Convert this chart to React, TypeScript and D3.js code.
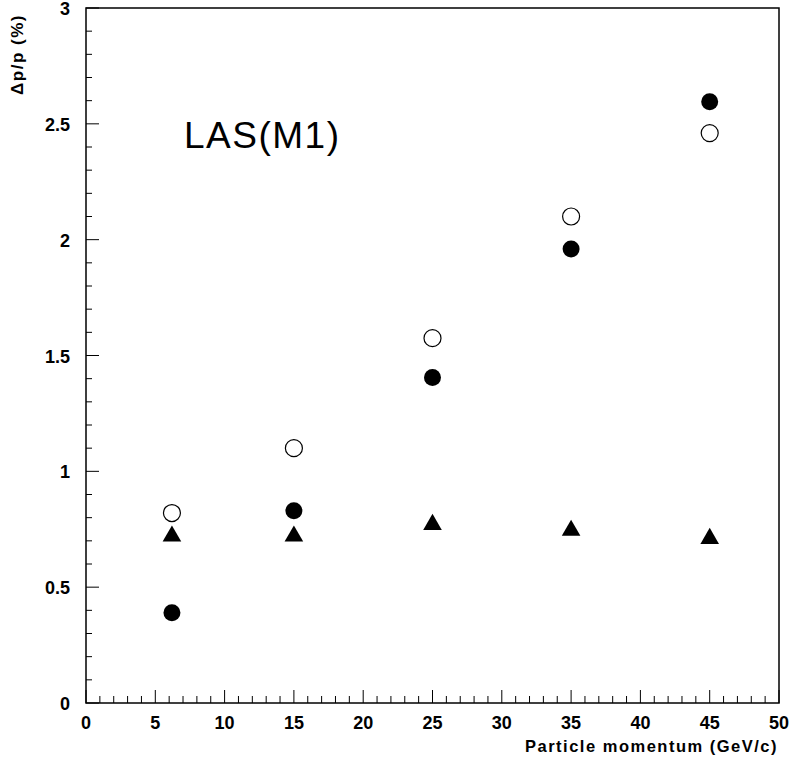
import React from "react";
import * as d3 from "d3";

const momenta = [6.2, 15, 25, 35, 45];
const filledCircle = [0.39, 0.83, 1.405, 1.96, 2.595];
const openCircle = [0.82, 1.1, 1.575, 2.1, 2.46];
const triangle = [0.72, 0.72, 0.77, 0.745, 0.71];
const xTicks = [0, 5, 10, 15, 20, 25, 30, 35, 40, 45, 50];
const yTicks = [0, 0.5, 1, 1.5, 2, 2.5, 3];

const W = 792, H = 758;
const m = { left: 86, right: 779, top: 8, bottom: 703 };

export default function App() {
  const x = d3.scaleLinear().domain([0, 50]).range([m.left, m.right]);
  const y = d3.scaleLinear().domain([0, 3]).range([m.bottom, m.top]);
  const xMinor = d3.range(0, 51, 1);
  const yMinor = d3.range(0, 31, 1).map((v) => v / 10);
  const font = "'Liberation Sans', Arial, sans-serif";
  const tri = d3.symbol().type(d3.symbolTriangle).size(150);
  return (
    <svg width={W} height={H} style={{ position: "absolute", left: 0, top: 0, background: "#fff" }}>
      <rect x={m.left} y={m.top} width={m.right - m.left} height={m.bottom - m.top} fill="none" stroke="#000" strokeWidth={1.5} />
      {xMinor.map((v) => (
        <line key={"xm" + v} x1={x(v)} x2={x(v)} y1={m.bottom} y2={m.bottom - (v % 5 === 0 ? 13 : 7)} stroke="#000" strokeWidth={1} />
      ))}
      {yMinor.map((v, i) => (
        <line key={"ym" + i} x1={m.left} x2={m.left + (i % 5 === 0 ? 13 : 6)} y1={y(v)} y2={y(v)} stroke="#000" strokeWidth={1} />
      ))}
      {xTicks.map((v) => (
        <text key={"xt" + v} x={x(v)} y={729} textAnchor="middle" fontFamily={font} fontSize={18} fontWeight="bold">{v}</text>
      ))}
      {yTicks.map((v) => (
        <text key={"yt" + v} x={70} y={y(v) + 7} textAnchor="end" fontFamily={font} fontSize={18} fontWeight="bold">{v}</text>
      ))}
      <text x={778} y={752} textAnchor="end" fontFamily={font} fontSize={16.5} fontWeight="bold" letterSpacing={1.5}>Particle momentum (GeV/c)</text>
      <text transform="translate(23,14) rotate(-90)" textAnchor="end" fontFamily={font} fontSize={17} fontWeight="bold" letterSpacing={1.5}>Δp/p (%)</text>
      <text x={184} y={148} fontFamily={font} fontSize={37} letterSpacing={1.5}>LAS(M1)</text>
      {momenta.map((v, i) => (
        <circle key={"oc" + i} cx={x(v)} cy={y(openCircle[i])} r={8.5} fill="#fff" stroke="#000" strokeWidth={1.2} />
      ))}
      {momenta.map((v, i) => (
        <circle key={"fc" + i} cx={x(v)} cy={y(filledCircle[i])} r={8.5} fill="#000" />
      ))}
      {momenta.map((v, i) => (
        <path key={"tr" + i} d={tri() as string} transform={`translate(${x(v)},${y(triangle[i])})`} fill="#000" />
      ))}
    </svg>
  );
}
